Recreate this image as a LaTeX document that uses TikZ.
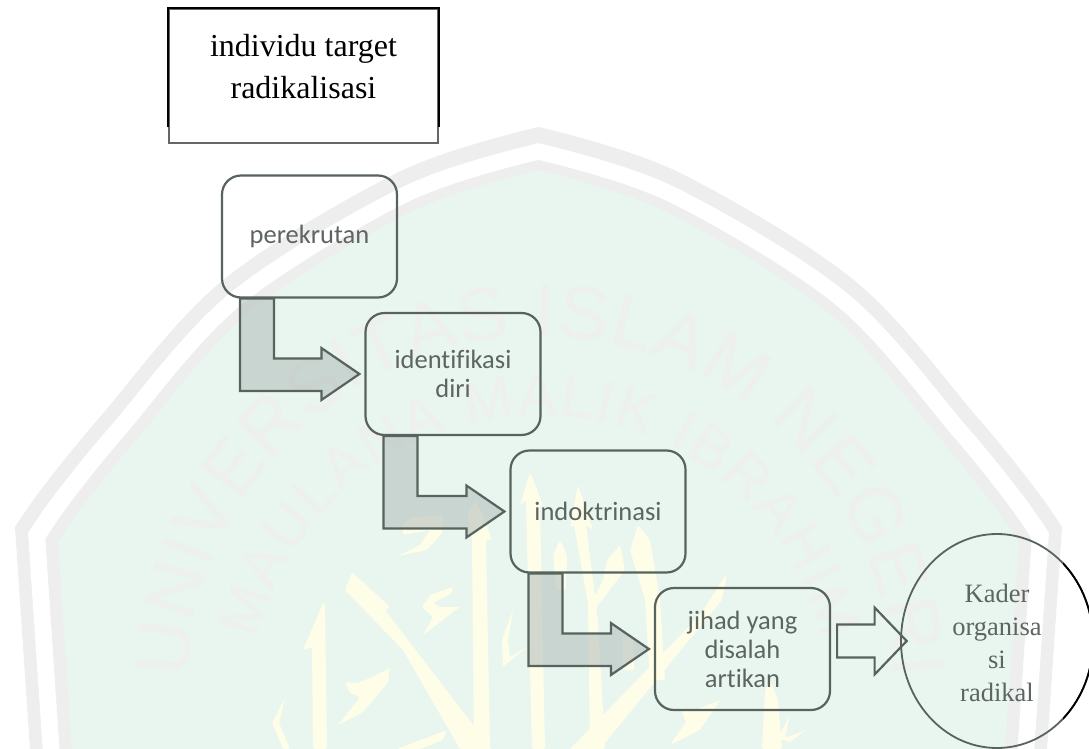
\documentclass[tikz,border=0pt]{standalone}
\usepackage{fontspec}
\setmainfont{Liberation Serif}
\newfontfamily\calibrifont[Ligatures=CommonOff]{Carlito}
\newfontfamily\wmfont{Liberation Sans}
\usetikzlibrary{calc,shapes.geometric,decorations.text}
\definecolor{wmgreen}{HTML}{E9F5EF}
\definecolor{wmband}{HTML}{EDEEED}
\definecolor{wmtext}{HTML}{EEF0EE}
\definecolor{wmyellow}{HTML}{FEFDE8}
\definecolor{inkline}{HTML}{58635D}
\definecolor{inktext}{HTML}{5C6560}
\definecolor{arrowfill}{HTML}{AEBBB7}
\tikzset{
  procbox/.style={draw=inkline,line width=2.2pt,rounded corners=19pt,minimum width=175pt,minimum height=122pt,inner sep=0pt,align=center,
    text=inktext,font=\calibrifont\fontsize{26.5}{29}\selectfont},
  bentarrow/.style={draw=inkline,line width=2.2pt,fill=arrowfill,fill opacity=.55,miter limit=6},
  hollowarrow/.style={draw=inkline,line width=2.2pt,miter limit=6},
  callig/.style={fill=wmyellow,rounded corners=1.5pt},
  wmwords/.style={decoration={text along path,text align=fit to path,text color=wmtext}},
}
% dome outline, relative to the middle of its lower edge
\newcommand{\domepath}{(-508.5,0) -- (-523.5,222)
  -- plot[smooth,tension=.55] coordinates {(-523.5,222) (-495.5,262) (-438.5,332) (-316.5,468) (-137.5,578) (0,622)}
  -- plot[smooth,tension=.55] coordinates {(0,622) (137.5,578) (316.5,468) (438.5,332) (495.5,262) (523.5,222)}
  -- (508.5,0) -- cycle}
\newcommand{\domelayer}[3]{\begin{scope}[shift={(538.5,749)},xscale=#1,yscale=-#2]\fill[#3] \domepath;\end{scope}}
% bent block arrow: leaves the lower edge of #1, points at the left side of #2
\newcommand{\bentblock}[2]{\draw[bentarrow] let \p1=(#1.south west), \p2=(#2.west) in
  (\x1+19pt,\y1) -- (\x1+53pt,\y1) -- (\x1+53pt,\y2+15.5pt) -- (\x2-43pt,\y2+15.5pt) -- (\x2-43pt,\y2+26pt)
  -- (\x2-5pt,\y2) -- (\x2-43pt,\y2-26pt) -- (\x2-43pt,\y2-17pt) -- (\x1+19pt,\y2-17pt) -- cycle;}
\begin{document}
\begin{tikzpicture}[x=1pt,y=-1pt]
\useasboundingbox (0,0) rectangle (1089,749);
\fill[white] (0,0) rectangle (1089,749);
\clip (0,0) rectangle (1089,749);
% watermark
\domelayer{1}{1}{wmband}
\domelayer{.975}{.974}{white}
\domelayer{.942}{.947}{wmband}
\domelayer{.918}{.931}{wmgreen}
\path[wmwords,postaction={decorate,decoration={text={|\wmfont\fontsize{75}{75}\selectfont|UNIVERSITAS ISLAM NEGERI}}}]
  (187.2,677.7) arc[start angle=178,end angle=2,radius=353pt];
\path[wmwords,postaction={decorate,decoration={text={|\wmfont\fontsize{58}{58}\selectfont|MAULANA MALIK IBRAHIM}}}]
  (257.4,639.8) arc[start angle=167,end angle=13,radius=290pt];
% calligraphy
\fill[callig] (323,603) -- (303,650) -- (312,647) -- (313,749) -- (327,749) -- (325,603) -- cycle;
\fill[callig] (352,572) -- (345,590) -- (403,650) -- (460,749) -- (492,749) -- (477,730) -- (385,610) -- (390,607) -- cycle;
\fill[callig] (475,500) -- (467,515) -- (472,540) -- (474,749) -- (490,749) -- (486,540) -- (492,540) -- (483,515) -- cycle;
\fill[callig] (453,587) -- (430,595) -- (422,607) -- (433,617) -- (423,635) -- (460,607) -- (440,607) -- (433,603) -- (452,593) -- cycle;
\fill[callig] (403,523) -- (413,517) -- (443,515) -- (442,533) -- (427,550) -- (398,556) -- (420,545) -- (430,530) -- (403,535) -- cycle;
\fill[callig] (390,668) -- (370,678) -- (357,683) -- (345,682) -- (350,693) -- (360,697) -- (338,725) -- (363,712) -- (388,683) -- cycle;
\fill[callig] (285,698) -- (272,723) -- (283,749) -- (290,749) -- (279,723) -- cycle;
\fill[callig] (513,610) -- (502,640) -- (503,667) -- (527,647) -- (510,657) -- (508,640) -- cycle;
\fill[callig] (530,472) -- (520,505) -- (526,500) -- (532,749) -- (545,749) -- (540,505) -- (543,505) -- cycle;
\fill[callig] (447,730) -- (397,749) -- (420,749) -- (443,740) -- cycle;
\fill[callig] (560,540) -- (553,555) -- (556,590) -- (566,590) -- (567,555) -- cycle;
\fill[callig] (578,485) -- (570,527) -- (574,525) -- (588,603) -- (590,749) -- (605,749) -- (598,620) -- (586,525) -- (593,530) -- cycle;
\fill[callig] (620,545) -- (607,560) -- (603,580) -- (590,605) -- (593,612) -- (625,570) -- cycle;
\fill[callig] (638,525) -- (650,540) -- (660,600) -- (665,680) -- (650,680) -- (645,600) -- (630,550) -- cycle;
\fill[callig] (623,637) -- (633,637) -- (634,670) -- (623,670) -- cycle;
\fill[callig] (727,573) -- (722,600) -- (600,749) -- (570,749) -- (700,615) -- cycle;
\fill[callig] (720,700) -- (690,712) -- (680,708) -- (686,722) -- (670,745) -- (700,730) -- cycle;
\fill[callig] (765,690) -- (770,680) -- (778,700) -- (782,749) -- (762,749) -- cycle;
\fill[callig] (790,715) -- (785,738) -- (806,730) -- (790,742) -- (778,738) -- cycle;
% diagram
\node[draw=black!60,line width=2.2pt,minimum width=269pt,minimum height=134pt,inner sep=0pt] (topbox) at (303.5,76) {};
\draw[black,line width=2.2pt,line join=miter] ($(topbox.south west)+(0pt,17pt)$) -- (topbox.north west) -- (topbox.north east) -- ($(topbox.south east)+(0pt,17pt)$);
\node[align=center,inner sep=0pt,font=\fontsize{32}{42}\selectfont] (toptext) at (303.5,67) {individu target\\radikalisasi};
\node[procbox] (perekrutan) at (309.5,236.5) {perekrutan};
\node[procbox] (identifikasi) at (453,374) {identifikasi\\diri};
\node[procbox] (indoktrinasi) at (598,511.5) {indoktrinasi};
\node[procbox] (jihad) at (742.5,649) {jihad yang\\disalah\\artikan};
\node[ellipse,draw=inkline,line width=1.8pt,minimum width=192pt,minimum height=214pt,inner sep=0pt] (kader) at (997,641) {};
\begin{scope}
  \clip (1063,500) rectangle (1100,780);
  \draw[black,line width=1.8pt] (kader.center) ellipse [x radius=96pt,y radius=107pt];
\end{scope}
\node[align=center,inner sep=0pt,text=inktext,font=\fontsize{26.5}{33}\selectfont] (kadertext) at (997,643) {Kader\\organisa\\si\\radikal};
\bentblock{perekrutan}{identifikasi}
\bentblock{identifikasi}{indoktrinasi}
\bentblock{indoktrinasi}{jihad}
\draw[hollowarrow] let \p1=(jihad.east), \p2=(kader.west) in
  (\x1+6pt,\y2+16.5pt) -- (\x2-25.5pt,\y2+16.5pt) -- (\x2-25.5pt,\y2+33.5pt) -- (\x2+6.6pt,\y2) -- (\x2-25.5pt,\y2-33.5pt) -- (\x2-25.5pt,\y2-16.5pt) -- (\x1+6pt,\y2-16.5pt) -- cycle;
\end{tikzpicture}
\end{document}
